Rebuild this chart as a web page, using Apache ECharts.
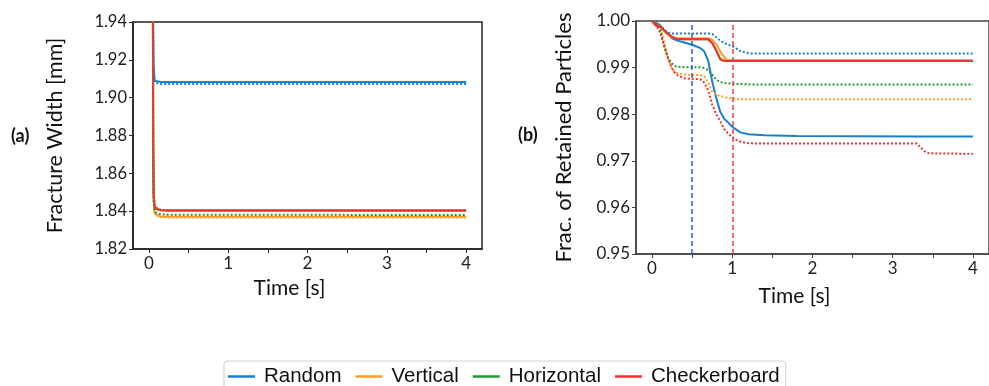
<!DOCTYPE html>
<html>
<head>
<meta charset="utf-8">
<script src="https://cdn.jsdelivr.net/npm/echarts@6/dist/echarts.min.js"></script>
<style>
  html, body { margin: 0; padding: 0; background: #fff; }
  #chart { width: 989px; height: 386px; }
</style>
</head>
<body>
<div id="chart"></div>
<script>
// ---- data ----
var categories = ['Random', 'Vertical', 'Horizontal', 'Checkerboard'];
var colors = ['#1a80cc', '#ff9d22', '#1e9a2e', '#f03232'];

// (a) fracture width
var timeA = [0.05, 0.055, 0.06, 0.07, 0.08, 0.1, 0.15, 0.25, 4.0];
var randomSolidA = [1.96, 1.935, 1.918, 1.910, 1.9088, 1.9085, 1.9083, 1.9083, 1.9083];
var randomDotA = [1.96, 1.934, 1.916, 1.909, 1.9078, 1.9074, 1.9072, 1.9072, 1.9072];
var verticalSolidA = [1.96, 1.87, 1.846, 1.840, 1.8385, 1.8377, 1.8372, 1.8370, 1.8370];
var verticalDotA = [1.96, 1.868, 1.845, 1.8395, 1.838, 1.8372, 1.8368, 1.8367, 1.8367];
var horizontalSolidA = [1.96, 1.872, 1.848, 1.8425, 1.8413, 1.8408, 1.8405, 1.8404, 1.8404];
var horizontalDotA = [1.96, 1.870, 1.847, 1.841, 1.8395, 1.8388, 1.8383, 1.8381, 1.8380];
var checkerSolidA = [1.96, 1.875, 1.850, 1.843, 1.8415, 1.8410, 1.8405, 1.8403, 1.8403];
var checkerDotA = [1.96, 1.876, 1.851, 1.8435, 1.842, 1.8412, 1.8407, 1.8404, 1.8403];

// (b) fraction of retained particles
var timeB = [0, 0.05, 0.1, 0.15, 0.2, 0.25, 0.3, 0.4, 0.5, 0.6, 0.65, 0.7, 0.75, 0.8, 0.85, 0.9, 0.95, 1.0, 1.05, 1.1, 1.2, 1.3, 1.4, 1.8, 3.3, 3.4, 3.45, 4.0];
var randomSolidB = [1.0, 0.9996, 0.9991, 0.9980, 0.9971, 0.9963, 0.9959, 0.9954, 0.9949, 0.9942, 0.9935, 0.9915, 0.9870, 0.9835, 0.9805, 0.9790, 0.9782, 0.9773, 0.9767, 0.9761, 0.9757, 0.9756, 0.9755, 0.9753, 0.9752, 0.9752, 0.9752, 0.9752];
var randomDotB = [1.0, 0.9996, 0.9990, 0.9982, 0.9975, 0.9973, 0.9973, 0.9973, 0.9973, 0.9973, 0.9973, 0.9973, 0.9972, 0.9965, 0.9958, 0.9953, 0.9949, 0.9946, 0.9941, 0.9935, 0.9931, 0.9930, 0.9930, 0.9930, 0.9930, 0.9930, 0.9930, 0.9930];
var verticalSolidB = [1.0, 0.9990, 0.9988, 0.9979, 0.9970, 0.9965, 0.9963, 0.9963, 0.9963, 0.9963, 0.9963, 0.9963, 0.9960, 0.9950, 0.9935, 0.9922, 0.9914, 0.9914, 0.9914, 0.9914, 0.9914, 0.9914, 0.9914, 0.9914, 0.9914, 0.9914, 0.9914, 0.9914];
var verticalDotB = [1.0, 0.9995, 0.9990, 0.9955, 0.9918, 0.9898, 0.9889, 0.9885, 0.9884, 0.9884, 0.9881, 0.9868, 0.9848, 0.9842, 0.9839, 0.9837, 0.9835, 0.9834, 0.9833, 0.9832, 0.9832, 0.9832, 0.9832, 0.9832, 0.9832, 0.9832, 0.9832, 0.9832];
var horizontalSolidB = [1.0, 0.9990, 0.9988, 0.9980, 0.9972, 0.9966, 0.9962, 0.9961, 0.9961, 0.9961, 0.9961, 0.9961, 0.9953, 0.9937, 0.9918, 0.9915, 0.9915, 0.9915, 0.9915, 0.9915, 0.9915, 0.9915, 0.9915, 0.9915, 0.9915, 0.9915, 0.9915, 0.9915];
var horizontalDotB = [1.0, 0.9994, 0.9984, 0.9945, 0.9920, 0.9909, 0.9902, 0.9901, 0.9901, 0.9901, 0.9899, 0.9895, 0.9885, 0.9874, 0.9869, 0.9867, 0.9866, 0.9866, 0.9865, 0.9865, 0.9864, 0.9864, 0.9864, 0.9864, 0.9864, 0.9864, 0.9864, 0.9864];
var checkerSolidB = [1.0, 0.9990, 0.9988, 0.9980, 0.9972, 0.9966, 0.9962, 0.9961, 0.9961, 0.9961, 0.9961, 0.9961, 0.9953, 0.9937, 0.9918, 0.9914, 0.9914, 0.9914, 0.9914, 0.9914, 0.9914, 0.9914, 0.9914, 0.9914, 0.9914, 0.9914, 0.9914, 0.9914];
var checkerDotB = [1.0, 0.9992, 0.9975, 0.9948, 0.9920, 0.9898, 0.9885, 0.9877, 0.9876, 0.9875, 0.9868, 0.9851, 0.9820, 0.9800, 0.9785, 0.9768, 0.9758, 0.9751, 0.9745, 0.9741, 0.9738, 0.9737, 0.9737, 0.9737, 0.9737, 0.9720, 0.9716, 0.9715];

var xTicks = [0, 0.5, 1, 1.5, 2, 2.5, 3, 3.5, 4];
var xLabels = [0, 1, 2, 3, 4];
var markTimes = [0.5, 1.0];

// ---- helpers ----
function pairs(t, v) {
    return t.map(function (x, i) { return [x, v[i]]; });
}

function line(name, idx, t, v, dotted, grid, z) {
    return {
        name: name,
        type: 'line',
        xAxisIndex: grid,
        yAxisIndex: grid,
        data: pairs(t, v),
        showSymbol: false,
        symbol: 'none',
        clip: true,
        z: z,
        lineStyle: {color: colors[idx], width: 2, type: dotted ? [2, 2] : 'solid'},
        itemStyle: {color: colors[idx]}
    };
}

var tickFont = {fontFamily: 'Lato', color: '#222'};

function xAxis(grid, lineColor, gap) {
    return {
        type: 'value', gridIndex: grid, min: -0.2, max: 4.2,
        name: 'Time [s]', nameLocation: 'middle', nameGap: gap,
        nameTextStyle: {fontFamily: 'Lato', fontSize: 21, color: '#111', padding: [0, 36, 0, 0]},
        axisLine: {show: true, onZero: false, lineStyle: {color: lineColor, width: 1.5}},
        axisTick: {show: true, customValues: xTicks, length: 4, lineStyle: {color: lineColor}},
        axisLabel: Object.assign({customValues: xLabels, fontSize: 17, margin: 6}, tickFont),
        splitLine: {show: false}
    };
}

var chart = echarts.init(document.getElementById('chart'));

var series = [
    line(categories[0], 0, timeA, randomSolidA, false, 0, 2),
    line(categories[1], 1, timeA, verticalSolidA, false, 0, 2),
    line(categories[2], 2, timeA, horizontalSolidA, false, 0, 2),
    line(categories[3], 3, timeA, checkerSolidA, false, 0, 2),
    line(categories[0], 0, timeA, randomDotA, true, 0, 3),
    line(categories[1], 1, timeA, verticalDotA, true, 0, 3),
    line(categories[2], 2, timeA, horizontalDotA, true, 0, 3),
    line(categories[3], 3, timeA, checkerDotA, true, 0, 4),

    line(categories[2], 2, timeB, horizontalSolidB, false, 1, 2),
    line(categories[0], 0, timeB, randomSolidB, false, 1, 3),
    line(categories[1], 1, timeB, verticalSolidB, false, 1, 3),
    line(categories[3], 3, timeB, checkerSolidB, false, 1, 4),
    line(categories[0], 0, timeB, randomDotB, true, 1, 3),
    line(categories[1], 1, timeB, verticalDotB, true, 1, 3),
    line(categories[2], 2, timeB, horizontalDotB, true, 1, 3),
    line(categories[3], 3, timeB, checkerDotB, true, 1, 3)
];

// vertical dashed markers on (b)
series[9].markLine = {
    silent: true,
    symbol: ['none', 'none'],
    label: {show: false},
    animation: false,
    data: [
        {xAxis: markTimes[0], lineStyle: {color: '#2b5ce6', type: [5, 3], width: 1.5}},
        {xAxis: markTimes[1], lineStyle: {color: '#f23c3c', type: [5, 3], width: 1.5}}
    ]
};

var option = {
    animation: false,
    backgroundColor: '#fff',
    grid: [
        {left: 133, top: 22, width: 349, height: 227, show: true, borderColor: '#222', borderWidth: 1.5},
        {left: 636, top: 21, right: -4, bottom: 132, show: true, borderColor: '#444', borderWidth: 1.5}
    ],
    xAxis: [xAxis(0, '#222', 29), xAxis(1, '#444', 32)],
    yAxis: [
        {
            type: 'value', gridIndex: 0, min: 1.82, max: 1.94, interval: 0.02,
            name: 'Fracture Width [mm]', nameLocation: 'middle', nameGap: 67,
            nameTextStyle: {fontFamily: 'Lato', fontSize: 21.5, color: '#111'},
            axisLine: {show: true, onZero: false, lineStyle: {color: '#222', width: 1.5}},
            axisTick: {show: true, length: 4, lineStyle: {color: '#222'}},
            axisLabel: Object.assign({fontSize: 16.5, margin: 6, formatter: function (v) { return v.toFixed(2); }}, tickFont),
            splitLine: {show: false}
        },
        {
            type: 'value', gridIndex: 1, min: 0.95, max: 1.0, interval: 0.01,
            name: 'Frac. of Retained Particles', nameLocation: 'middle', nameGap: 61,
            nameTextStyle: {fontFamily: 'Lato', fontSize: 22, color: '#111'},
            axisLine: {show: true, onZero: false, lineStyle: {color: '#444', width: 1.5}},
            axisTick: {show: true, length: 4, lineStyle: {color: '#444'}},
            axisLabel: Object.assign({fontSize: 17, margin: 6, formatter: function (v) { return v.toFixed(2); }}, tickFont),
            splitLine: {show: false}
        }
    ],
    legend: {
        data: categories,
        left: 224, top: 361,
        padding: [5, 6, 20, 4],
        itemGap: 14,
        icon: 'rect',
        itemWidth: 27, itemHeight: 2.5,
        borderColor: '#d0d0d0', borderWidth: 1, borderRadius: 3,
        textStyle: {fontFamily: 'Liberation Sans', fontSize: 20.5, color: '#111', padding: [0, 0, 0, 4]}
    },
    graphic: [
        {type: 'text', left: 11, top: 127, style: {text: '(a)', font: 'bold 18px Lato', fill: '#111'}},
        {type: 'text', left: 518, top: 126, style: {text: '(b)', font: 'bold 18px Lato', fill: '#111'}}
    ],
    series: series
};

chart.setOption(option);
</script>
</body>
</html>
